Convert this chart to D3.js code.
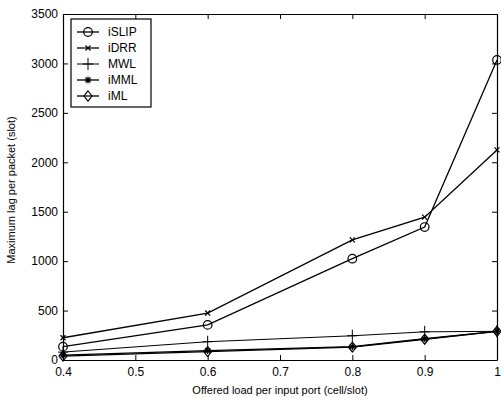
<!DOCTYPE html>
<html>
<head>
<meta charset="utf-8">
<script src="https://cdn.jsdelivr.net/npm/d3@7"></script>
<style>
  body { margin: 0; background: #fff; }
  svg { font-family: "Liberation Sans", Arial, sans-serif; }
</style>
</head>
<body>
<div id="chart"></div>
<script>
const loads = [0.4, 0.6, 0.8, 0.9, 1.0];
const iSLIP = [135, 355, 1025, 1345, 3035];
const iDRR = [225, 475, 1215, 1445, 2125];
const MWL = [80, 185, 245, 285, 290];
const iMML = [50, 95, 135, 215, 290];
const iML = [40, 85, 130, 210, 290];
const seriesNames = ['iSLIP', 'iDRR', 'MWL', 'iMML', 'iML'];
const markers = ['circle', 'x', 'plus', 'star', 'diamond'];
const xTicks = [0.4, 0.5, 0.6, 0.7, 0.8, 0.9, 1.0];
const yTicks = [0, 500, 1000, 1500, 2000, 2500, 3000, 3500];

const config = { width: 434, height: 346, margin: { top: 14, right: 4, bottom: 38, left: 63 } };
const W = 501, H = 398;

const root = d3.select('#chart').append('svg').attr('width', W).attr('height', H);
const svg = root.append('g')
  .attr('transform', 'translate(' + config.margin.left + ',' + config.margin.top + ')');

const x = d3.scaleLinear().domain([0.4, 1.0]).range([0, config.width]);
const y = d3.scaleLinear().domain([0, 3500]).range([config.height, 0]);

// axes, ticks pointing inward
function styleAxis(g) {
  g.selectAll('path').attr('stroke', '#000').attr('stroke-width', 1.2);
  g.selectAll('line').attr('stroke', '#000');
  g.selectAll('text').attr('fill', '#000').style('font-size', '12px');
}

svg.append('g')
  .attr('transform', 'translate(0,' + config.height + ')')
  .call(d3.axisBottom(x).tickValues(xTicks).tickFormat(d3.format('~g'))
    .tickSizeInner(-5).tickSizeOuter(0).tickPadding(7))
  .call(styleAxis);

svg.append('g')
  .call(d3.axisTop(x).tickValues(xTicks).tickFormat('')
    .tickSizeInner(-5).tickSizeOuter(0))
  .call(styleAxis);

svg.append('g')
  .call(d3.axisLeft(y).tickValues(yTicks).tickFormat(d3.format('d'))
    .tickSizeInner(-5).tickSizeOuter(0).tickPadding(5))
  .call(styleAxis);

svg.append('g')
  .attr('transform', 'translate(' + config.width + ',0)')
  .call(d3.axisRight(y).tickValues(yTicks).tickFormat('')
    .tickSizeInner(-5).tickSizeOuter(0))
  .call(styleAxis);

// axis titles
root.append('text')
  .attr('x', 280).attr('y', 394)
  .attr('text-anchor', 'middle')
  .style('font-size', '11px')
  .text('Offered load per input port (cell/slot)');

root.append('text')
  .attr('transform', 'translate(15,190) rotate(-90)')
  .attr('text-anchor', 'middle')
  .style('font-size', '11px')
  .text('Maximum lag per packet (slot)');

// marker drawing
function drawMarker(g, type, cx, cy) {
  const s = 3.5;
  if (type === 'circle') {
    g.append('circle').attr('cx', cx).attr('cy', cy).attr('r', 4.3)
      .attr('fill', 'none').attr('stroke', '#000').attr('stroke-width', 1.2);
  } else if (type === 'x') {
    g.append('path')
      .attr('d', `M${cx - 2.5},${cy - 2.5}L${cx + 2.5},${cy + 2.5}M${cx - 2.5},${cy + 2.5}L${cx + 2.5},${cy - 2.5}`)
      .attr('stroke', '#000').attr('stroke-width', 1.2);
  } else if (type === 'plus') {
    g.append('path')
      .attr('d', `M${cx - 5},${cy}L${cx + 5},${cy}M${cx},${cy - 6}L${cx},${cy + 6}`)
      .attr('stroke', '#000').attr('stroke-width', 1);
  } else if (type === 'star') {
    g.append('path')
      .attr('d', `M${cx - s},${cy}L${cx + s},${cy}M${cx},${cy - s}L${cx},${cy + s}` +
        `M${cx - 2.5},${cy - 2.5}L${cx + 2.5},${cy + 2.5}M${cx - 2.5},${cy + 2.5}L${cx + 2.5},${cy - 2.5}`)
      .attr('stroke', '#000').attr('stroke-width', 1.2);
  } else if (type === 'diamond') {
    g.append('path')
      .attr('d', `M${cx},${cy - 5}L${cx + 4},${cy}L${cx},${cy + 5}L${cx - 4},${cy}Z`)
      .attr('fill', 'none').attr('stroke', '#000').attr('stroke-width', 1.2);
  }
}

const allSeries = [iSLIP, iDRR, MWL, iMML, iML];
const line = d3.line().x((d, i) => x(loads[i])).y(d => y(d));

allSeries.forEach((vals, k) => {
  const g = svg.append('g');
  g.append('path').datum(vals)
    .attr('d', line)
    .attr('fill', 'none')
    .attr('stroke', '#000')
    .attr('stroke-width', k === 2 ? 1 : 1.3);
  vals.forEach((v, i) => drawMarker(g, markers[k], x(loads[i]), y(v)));
});

// legend
const lg = root.append('g');
lg.append('rect')
  .attr('x', 71).attr('y', 19).attr('width', 80).attr('height', 88)
  .attr('fill', '#fff').attr('stroke', '#000').attr('stroke-width', 1.2);
seriesNames.forEach((name, k) => {
  const ly = 32 + k * 16;
  lg.append('line').attr('x1', 77).attr('x2', 99).attr('y1', ly).attr('y2', ly)
    .attr('stroke', '#000').attr('stroke-width', k === 2 ? 1 : 1.3);
  drawMarker(lg, markers[k], 88, ly);
  lg.append('text').attr('x', 108).attr('y', ly).attr('dy', '0.35em')
    .style('font-size', '12px').text(name);
});
</script>
</body>
</html>
